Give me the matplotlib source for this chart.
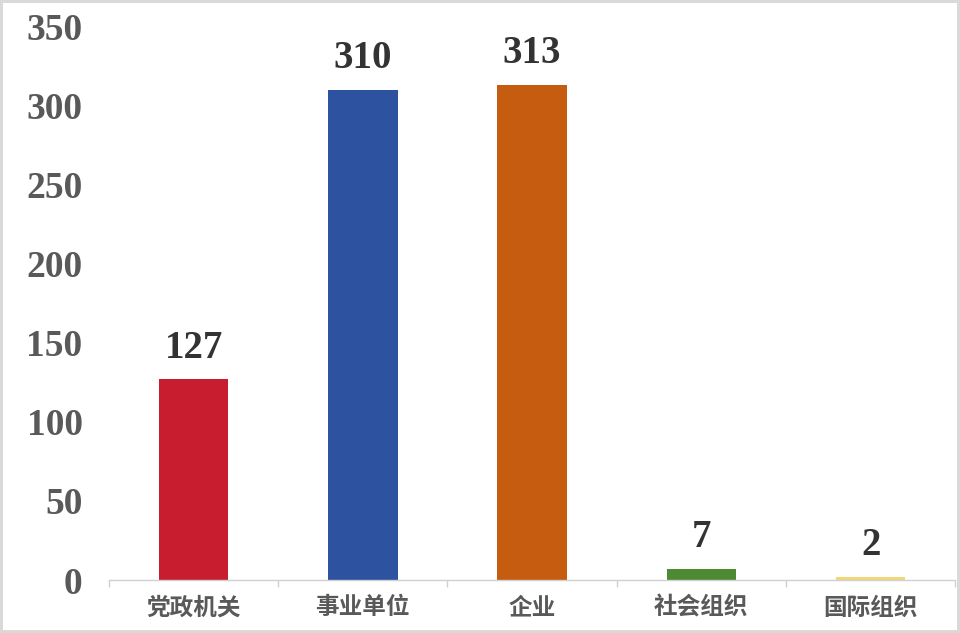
import matplotlib
matplotlib.use("Agg")
import matplotlib.pyplot as plt
from matplotlib.ticker import FixedLocator

# données
categories = ["党政机关", "事业单位", "企业", "社会组织", "国际组织"]
values = [127, 310, 313, 7, 2]
bar_colors = ["#C81D2F", "#2D52A0", "#C55C10", "#4E8A31", "#F3D776"]
y_ticks = [0, 50, 100, 150, 200, 250, 300, 350]

fig = plt.figure(figsize=(9.6, 6.33), dpi=100)
fig.patch.set_edgecolor("#D9D9D9")
fig.patch.set_linewidth(4)
ax = fig.add_axes([0.1135, 0.0837, 0.8815, 0.8745])

x = range(len(categories))
bars = ax.bar(x, values, width=0.41, color=bar_colors)

for b, v in zip(bars, values):
    ax.annotate(str(v), (b.get_x() + b.get_width() / 2, v), xytext=(0, 9),
                textcoords="offset points", ha="center", va="bottom",
                family="Liberation Serif", fontweight="bold", fontsize=28,
                color="#333333")

ax.set_xlim(-0.5, len(categories) - 0.5)
ax.set_ylim(0, 350)
ax.set_yticks(y_ticks)
ax.set_yticklabels([str(t) for t in y_ticks], family="Liberation Serif",
                   fontweight="bold", fontsize=27, color="#595959")
ax.tick_params(axis="y", length=0, pad=19)

ax.set_xticks(list(x))
ax.set_xticklabels(categories, family=["Noto Sans CJK SC", "DejaVu Sans"],
                   fontweight="bold", fontsize=17, color="#595959")
ax.tick_params(axis="x", which="major", length=0, pad=11)
ax.xaxis.set_minor_locator(FixedLocator([i - 0.5 for i in range(len(categories) + 1)]))
ax.tick_params(axis="x", which="minor", length=5, color="#D0D0D0", width=1)

for s in ["top", "right", "left"]:
    ax.spines[s].set_visible(False)
ax.spines["bottom"].set_color("#D0D0D0")
ax.spines["bottom"].set_linewidth(1)

fig.savefig("out.png", dpi=100)
